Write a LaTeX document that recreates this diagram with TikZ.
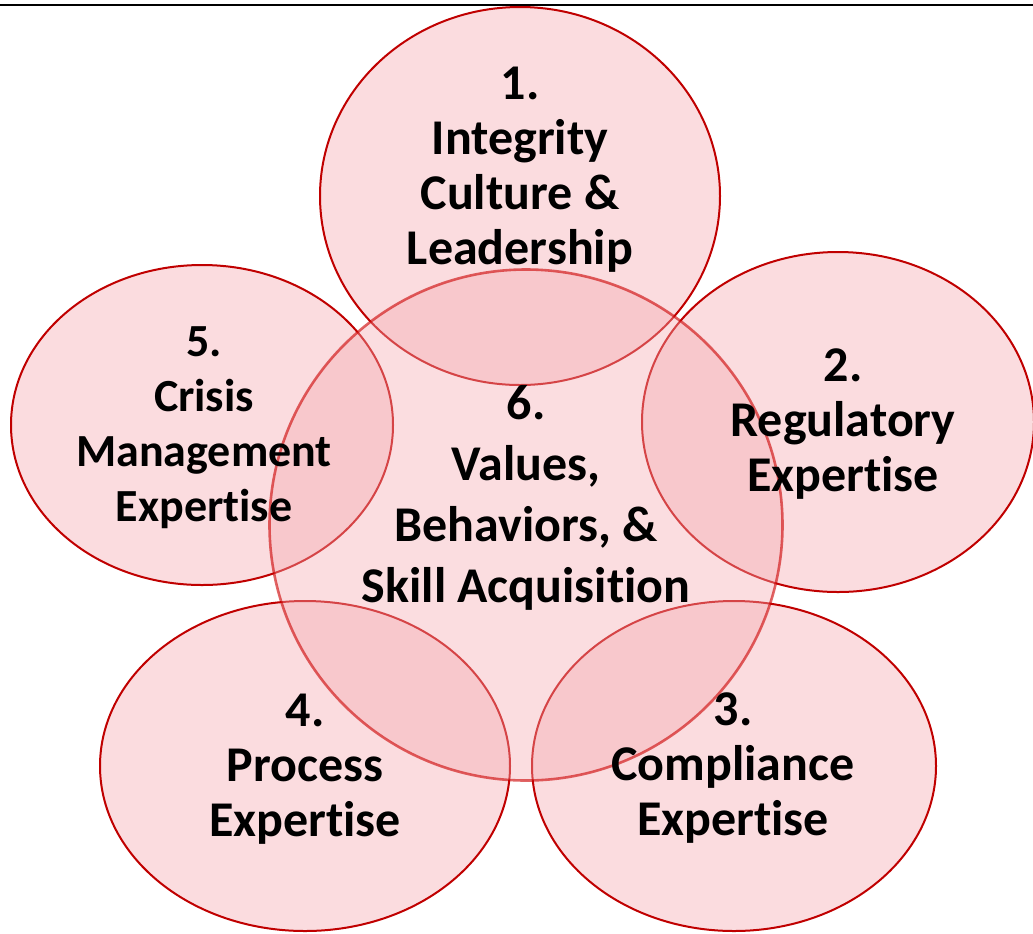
\documentclass[tikz,border=0pt]{standalone}
\usepackage{fontspec}
\setmainfont[Ligatures = NoCommon]{Carlito}
\usepackage{tikz}
\usetikzlibrary{shapes, positioning}
\definecolor{ringred}{HTML}{C00000}
\definecolor{ringpink}{HTML}{FBDCDF}
\definecolor{corepink}{RGB}{245,170,177}
\tikzstyle{ring} = [ellipse, inner sep = 0, draw = ringred, line width = 1pt,
  fill = ringpink]
\tikzstyle{core} = [
  ellipse, inner sep = 0,
  draw = red!80!black, draw opacity = 0.6, line width = 1.3pt,
  fill = corepink, fill opacity = 0.4
]
\tikzstyle{caption} = [align = center, inner sep = 0,
  font = \bfseries\fontsize{25}{27.5}\selectfont]

\begin{document}
\begin{tikzpicture}[x = 0.5pt, y = -0.5pt]
      \useasboundingbox (0, 0) rectangle (1033, 933);
      % frame line
      \coordinate (frame-l) at (0, 5);
      \coordinate (frame-r) at (1033, 5);
      \draw [line width = 1pt] (frame-l) -- (frame-r);
      % 1-5
      \node [ring, minimum width = 200pt, minimum height = 189pt] (ring-1) at (520, 196) {};
      \node [ring, minimum width = 196pt, minimum height = 170pt] (ring-2) at (838, 422) {};
      \node [ring, minimum width = 202pt, minimum height = 165pt] (ring-3) at (734, 766) {};
      \node [ring, minimum width = 205pt, minimum height = 165pt] (ring-4) at (305, 766) {};
      \node [ring, minimum width = 191pt, minimum height = 160pt] (ring-5) at (202, 425) {};
      % 6
      \node [core, minimum width = 256.5pt, minimum height = 255.5pt] (ring-6) at (526, 525) {};

      \node [caption] (text-1) at (520, 170) {1.\\Integrity\\Culture \&\\Leadership};
      \node [caption] (text-2) at (843, 424) {2.\\Regulatory\\Expertise};
      \node [caption] (text-3) at (733, 768) {3.\\Compliance\\Expertise};
      \node [caption] (text-4) at (305, 769) {4.\\Process\\Expertise};
      \node [caption, font = \bfseries\fontsize{23}{27.5}\selectfont] (text-5) at (204, 428)
        {5.\\Crisis\\Management\\Expertise};
      \node [caption, font = \bfseries\fontsize{25}{30.5}\selectfont] (text-6) at (526, 498)
        {6.\\Values,\\Behaviors, \&\\Skill Acquisition};
    \end{tikzpicture}
\end{document}
